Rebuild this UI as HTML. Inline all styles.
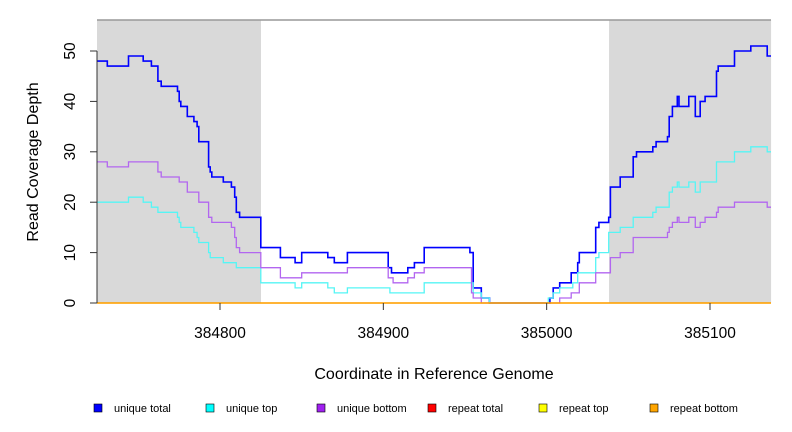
<!DOCTYPE html>
<html><head><meta charset="utf-8"><style>
body{margin:0;background:#fff;}
svg{display:block;font-family:"Liberation Sans",sans-serif;}
</style></head><body>
<svg id="chart" width="792" height="432">
<g id="bg"></g><g id="series"></g><g id="axes"></g><g id="legend"></g>
</svg>
<script>
const xTicks=[384800,384900,385000,385100];
const yTicks=[0,10,20,30,40,50];
const shadeRegions=[[384724.7,384825.1],[385038.2,385137.4]];
const uniqueTotal=[[384724.7,48],[384731,47],[384744,49],[384753,48],[384758,47],[384762,44],[384764,43],[384774,42],[384775,40],[384776,39],[384780,37],[384784,36],[384786,35],[384787,32],[384793,27],[384794,26],[384795,25],[384802,24],[384807,23],[384809,21],[384810,18],[384812,17],[384825,11],[384837,9],[384846,8],[384850,10],[384866,9],[384870,8],[384878,10],[384903,7],[384905,6],[384915,7],[384919,8],[384925,11],[384953,10],[384955,3],[384960,1],[384965,0],[385002,1],[385004,3],[385008,4],[385015,6],[385019,8],[385020,10],[385030,15],[385032,16],[385038,17],[385039,23],[385045,25],[385053,29],[385055,30],[385065,31],[385067,32],[385074,33],[385075,37],[385077,39],[385080,41],[385081,39],[385087,41],[385091,37],[385094,40],[385097,41],[385104,46],[385105,47],[385115,50],[385125,51],[385135,49]];
const uniqueTop=[[384724.7,20],[384744,21],[384753,20],[384758,19],[384762,18],[384774,17],[384775,16],[384776,15],[384784,14],[384786,13],[384787,12],[384793,10],[384794,9],[384802,8],[384810,7],[384825,4],[384846,3],[384850,4],[384866,3],[384870,2],[384878,3],[384904,2],[384925,4],[384955,2],[384960,1],[384965,0],[385001,1],[385004,2],[385008,3],[385016,4],[385019,6],[385030,9],[385032,10],[385038,14],[385045,15],[385053,17],[385065,18],[385067,19],[385075,22],[385077,23],[385080,24],[385081,23],[385087,24],[385091,22],[385094,24],[385104,28],[385115,30],[385125,31],[385135,30]];
const uniqueBottom=[[384724.7,28],[384731,27],[384744,28],[384762,26],[384764,25],[384775,24],[384780,22],[384787,20],[384793,17],[384795,16],[384807,15],[384809,13],[384810,11],[384812,10],[384825,7],[384837,5],[384850,6],[384878,7],[384903,5],[384906,4],[384915,5],[384919,6],[384925,7],[384954,2],[384955,1],[384960,0],[385008,1],[385015,2],[385020,4],[385030,6],[385039,9],[385045,10],[385053,13],[385074,14],[385075,15],[385077,16],[385080,17],[385081,16],[385087,17],[385091,15],[385094,16],[385097,17],[385104,18],[385105,19],[385115,20],[385135,19]];
const repeatTotal=[[384724.7,0]];
const repeatTop=[[384724.7,0]];
const repeatBottom=[[384724.7,0]];
const legendLabels=["unique total","unique top","unique bottom","repeat total","repeat top","repeat bottom"];
const legendColors=["#0000ff","#00ffff","#a020f0","#ff0000","#ffff00","#ffa500"];

const X0=97,X1=771,Y0=303,YT=20;
function sx(v){return 220+(v-384800)*1.6333;}
function sy(v){return Y0-v*5.04;}
const NS="http://www.w3.org/2000/svg";
function mk(tag,attrs,parent){const e=document.createElementNS(NS,tag);for(const k in attrs)e.setAttribute(k,attrs[k]);parent.appendChild(e);return e;}
const bgG=document.getElementById('bg'),serG=document.getElementById('series'),axG=document.getElementById('axes'),lgG=document.getElementById('legend');

shadeRegions.forEach((r,i)=>{
  const e=mk('rect',{x:sx(r[0]),y:YT,width:sx(r[1])-sx(r[0]),height:Y0-YT,fill:'#d9d9d9'},bgG);
  
  
});
const topBorder=mk('line',{x1:X0,x2:X1,y1:YT,y2:YT,stroke:'#999','stroke-width':1.5},bgG);



function stepPath(d){
  let p='';
  for(let i=0;i<d.length;i++){
    const x=sx(d[i][0]),y=sy(d[i][1]);
    const xn=i+1<d.length?sx(d[i+1][0]):X1;
    p+=(i===0?'M':'L')+x.toFixed(1)+','+y.toFixed(1)+'L'+xn.toFixed(1)+','+y.toFixed(1);
  }
  return p;
}
const seriesList=[[uniqueTotal,0,'unique-total-line'],[uniqueTop,1,'unique-top-line'],[uniqueBottom,2,'unique-bottom-line'],[repeatTotal,3,'repeat-total-line'],[repeatTop,4,'repeat-top-line'],[repeatBottom,5,'repeat-bottom-line']];
seriesList.forEach(s=>{
  const c=s[1]===2?'#b266f0':(s[1]===1?'#55f5f5':legendColors[s[1]]);
  const e=mk('path',{d:stepPath(s[0]),fill:'none',stroke:c,'stroke-width':s[1]===0?1.6:1.3},serG);
  
  
});

const yl=mk('line',{x1:X0,x2:X0,y1:sy(50),y2:sy(0),stroke:'#333'},axG);


yTicks.forEach(v=>{
  const t=mk('line',{x1:X0-7,x2:X0,y1:sy(v),y2:sy(v),stroke:'#333'},axG);
  
  
  const tx=mk('text',{x:75,y:sy(v),'font-size':15.5,'text-anchor':'middle',transform:'rotate(-90 75 '+sy(v)+')',fill:'#000'},axG);
  tx.textContent=v;
  
  
});
xTicks.forEach(v=>{
  const t=mk('line',{x1:sx(v),x2:sx(v),y1:Y0,y2:Y0+7,stroke:'#333'},axG);
  
  
  const tx=mk('text',{x:sx(v),y:338,'font-size':15.5,'text-anchor':'middle',fill:'#000'},axG);
  tx.textContent=v;
  
  
});
const yt=mk('text',{x:38,y:162,'font-size':16,'text-anchor':'middle',transform:'rotate(-90 38 162)'},axG);
yt.textContent='Read Coverage Depth';


const xt=mk('text',{x:434,y:379,'font-size':16,'text-anchor':'middle'},axG);
xt.textContent='Coordinate in Reference Genome';



const lx=[94,206,317,428,539,650];
legendLabels.forEach((l,i)=>{
  const r=mk('rect',{x:lx[i],y:404,width:8,height:8,fill:legendColors[i],stroke:'#000','stroke-width':0.6},lgG);
  
  
  const t=mk('text',{x:lx[i]+20,y:412,'font-size':11},lgG);
  t.textContent=l;
  
  
});
</script>
</body></html>
